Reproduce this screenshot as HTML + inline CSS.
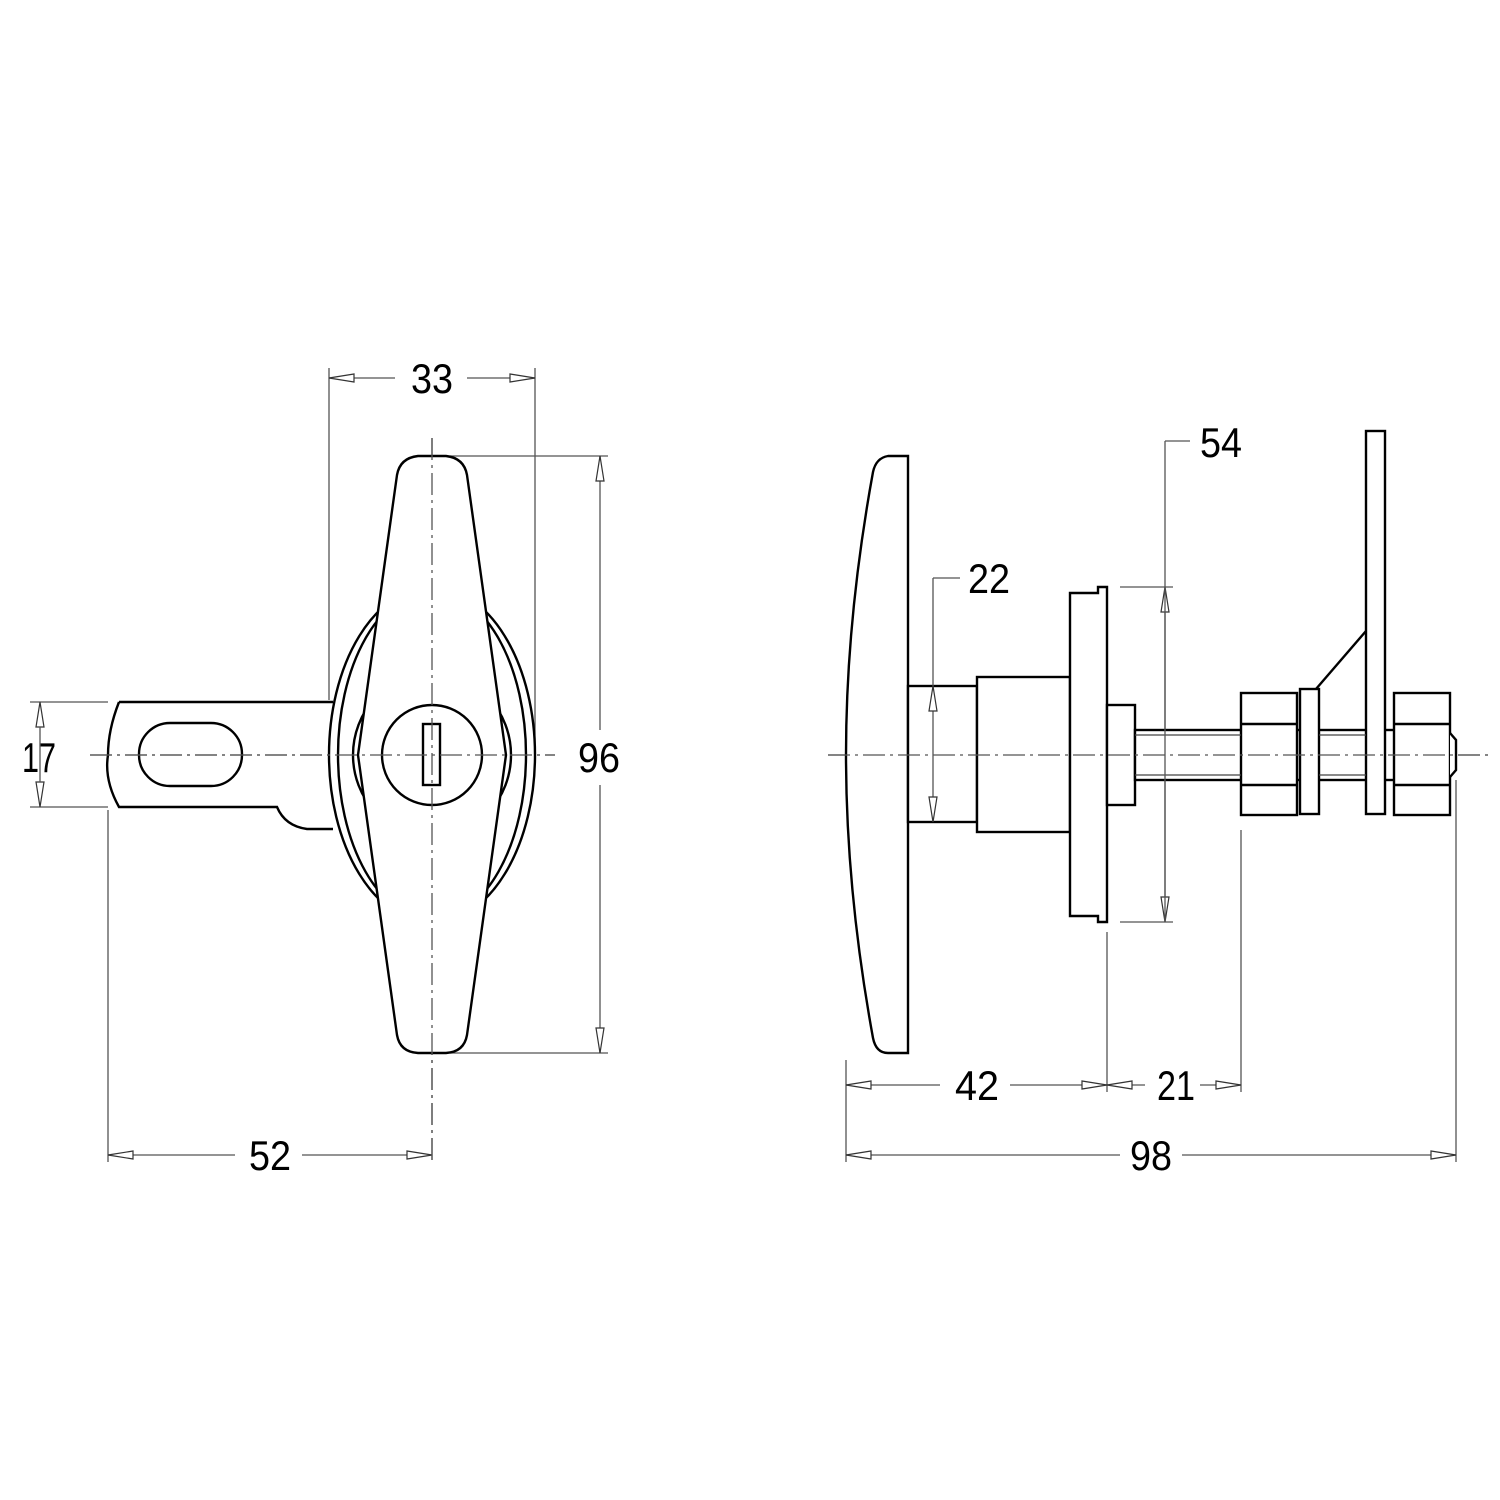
<!DOCTYPE html>
<html><head><meta charset="utf-8"><style>
html,body{margin:0;padding:0;background:#fff}
svg{display:block}
text{font-family:"Liberation Sans",sans-serif;font-size:42px;fill:#000}
</style></head><body>
<svg width="1500" height="1500" viewBox="0 0 1500 1500" xmlns="http://www.w3.org/2000/svg">
<rect width="1500" height="1500" fill="#fff"/>
<g fill="none" stroke="#555" stroke-width="1.3">
<line x1="432" y1="438" x2="432" y2="1162" stroke-dasharray="22,5,3,5"/>
<line x1="90" y1="755" x2="555" y2="755" stroke-dasharray="22,5,3,5"/>
<line x1="828" y1="755" x2="1490" y2="755" stroke-dasharray="22,5,3,5"/>
<line x1="329" y1="368" x2="329" y2="700"/>
<line x1="535" y1="368" x2="535" y2="755"/>
<line x1="329" y1="378" x2="395" y2="378"/><line x1="467" y1="378" x2="535" y2="378"/>
<line x1="450" y1="456" x2="608" y2="456"/><line x1="450" y1="1053" x2="608" y2="1053"/>
<line x1="600" y1="456" x2="600" y2="730"/><line x1="600" y1="785" x2="600" y2="1053"/>
<line x1="30" y1="702" x2="108" y2="702"/><line x1="30" y1="807" x2="108" y2="807"/>
<line x1="108" y1="810" x2="108" y2="1162"/>
<line x1="108" y1="1155" x2="235" y2="1155"/><line x1="302" y1="1155" x2="432" y2="1155"/>
<line x1="1165" y1="441" x2="1190" y2="441"/><line x1="1165" y1="441" x2="1165" y2="922"/>
<line x1="1120" y1="587" x2="1173" y2="587"/><line x1="1120" y1="922" x2="1173" y2="922"/>
<line x1="846" y1="1060" x2="846" y2="1162"/>
<line x1="1107" y1="932" x2="1107" y2="1092"/>
<line x1="1241" y1="830" x2="1241" y2="1092"/>
<line x1="1456" y1="780" x2="1456" y2="1162"/>
<line x1="846" y1="1085" x2="940" y2="1085"/><line x1="1010" y1="1085" x2="1107" y2="1085"/>
<line x1="1107" y1="1085" x2="1145" y2="1085"/><line x1="1200" y1="1085" x2="1241" y2="1085"/>
<line x1="846" y1="1155" x2="1120" y2="1155"/><line x1="1182" y1="1155" x2="1456" y2="1155"/>
</g>
<g fill="#fff" stroke="#333" stroke-width="1.2">
<polygon points="329,378 354,374 354,382"/><polygon points="535,378 510,374 510,382"/>
<polygon points="600,456 596,481 604,481"/><polygon points="600,1053 596,1028 604,1028"/>
<polygon points="40,702 36,727 44,727"/><polygon points="40,807 36,782 44,782"/>
<polygon points="108,1155 133,1151 133,1159"/><polygon points="432,1155 407,1151 407,1159"/>
<polygon points="1165,587 1161,612 1169,612"/><polygon points="1165,922 1161,897 1169,897"/>
<polygon points="846,1085 871,1081 871,1089"/><polygon points="1107,1085 1082,1081 1082,1089"/>
<polygon points="1107,1085 1132,1081 1132,1089"/><polygon points="1241,1085 1216,1081 1216,1089"/>
<polygon points="846,1155 871,1151 871,1159"/><polygon points="1456,1155 1431,1151 1431,1159"/>
</g>
<line x1="40" y1="727" x2="40" y2="782" stroke="#555" stroke-width="1.3"/>
<g fill="none" stroke="#000" stroke-width="2.4">
<path d="M119,702 L333,702 M333,829 L307,829 Q285,826 277,807 L119,807 Q104,780 108,755 Q108,730 119,702"/>
<rect x="139" y="723" width="103" height="63" rx="31" ry="31"/>
<ellipse cx="432" cy="755" rx="103" ry="168" fill="#fff"/>
<ellipse cx="432" cy="755" rx="94" ry="165"/>
<ellipse cx="432" cy="755" rx="79" ry="82"/>
<path fill="#fff" d="M418,456 Q400,458 397,475 L358,755 L397,1035 Q400,1052 418,1053 L446,1053 Q464,1052 467,1035 L506,755 L467,475 Q464,458 446,456 Z"/>
<circle cx="432" cy="755" r="50"/>
<rect x="423" y="724" width="17" height="61"/>
</g>
<line x1="432" y1="438" x2="432" y2="1162" stroke="#555" stroke-width="1.3" stroke-dasharray="22,5,3,5"/>
<line x1="90" y1="755" x2="555" y2="755" stroke="#555" stroke-width="1.3" stroke-dasharray="22,5,3,5"/>
<g fill="#fff" stroke="#000" stroke-width="2.4">
<path d="M908,456 L888,456 Q876,458 873,472 Q846,620 846,755 Q846,890 873,1038 Q876,1053 888,1053 L908,1053 Z"/>
<rect x="908" y="686" width="69" height="136"/>
<rect x="977" y="677" width="93" height="155"/>
<path d="M1070,593 L1098,593 L1098,587 L1107,587 L1107,922 L1098,922 L1098,916 L1070,916 Z"/>
<rect x="1107" y="705" width="28" height="100"/>
<rect x="1135" y="730" width="260" height="50"/>
<rect x="1366" y="431" width="19" height="383"/>
<line x1="1316" y1="689" x2="1366" y2="631"/>
<rect x="1241" y="693" width="56" height="122"/>
<line x1="1241" y1="724" x2="1297" y2="724"/><line x1="1241" y1="785" x2="1297" y2="785"/>
<rect x="1300" y="689" width="19" height="125"/>
<rect x="1394" y="693" width="56" height="122"/>
<line x1="1394" y1="724" x2="1450" y2="724"/><line x1="1394" y1="785" x2="1450" y2="785"/>
<path d="M1450,733 L1456,740 L1456,770 L1450,777"/>
</g>
<g stroke="#444" stroke-width="1.2">
<line x1="1135" y1="735" x2="1241" y2="735"/><line x1="1135" y1="775" x2="1241" y2="775"/>
<line x1="1319" y1="735" x2="1366" y2="735"/><line x1="1319" y1="775" x2="1366" y2="775"/>
</g>
<line x1="828" y1="755" x2="1490" y2="755" stroke="#555" stroke-width="1.3" stroke-dasharray="22,5,3,5"/>
<line x1="1165" y1="587" x2="1165" y2="922" stroke="#555" stroke-width="1.3"/>
<g fill="none" stroke="#555" stroke-width="1.3">
<line x1="933" y1="578" x2="960" y2="578"/><line x1="933" y1="578" x2="933" y2="822"/>
</g>
<g fill="#fff" stroke="#333" stroke-width="1.2">
<polygon points="933,686 929,711 937,711"/><polygon points="933,822 929,797 937,797"/>
</g>
<g text-anchor="middle">
<text x="432" y="393" textLength="42" lengthAdjust="spacingAndGlyphs">33</text>
<text x="599" y="772" textLength="42" lengthAdjust="spacingAndGlyphs">96</text>
<text x="39" y="772" textLength="34" lengthAdjust="spacingAndGlyphs">17</text>
<text x="270" y="1170" textLength="42" lengthAdjust="spacingAndGlyphs">52</text>
<text x="989" y="593" textLength="42" lengthAdjust="spacingAndGlyphs">22</text>
<text x="1221" y="457" textLength="42" lengthAdjust="spacingAndGlyphs">54</text>
<text x="977" y="1100" textLength="44" lengthAdjust="spacingAndGlyphs">42</text>
<text x="1176" y="1100" textLength="38" lengthAdjust="spacingAndGlyphs">21</text>
<text x="1151" y="1170" textLength="42" lengthAdjust="spacingAndGlyphs">98</text>
</g>
</svg>
</body></html>
